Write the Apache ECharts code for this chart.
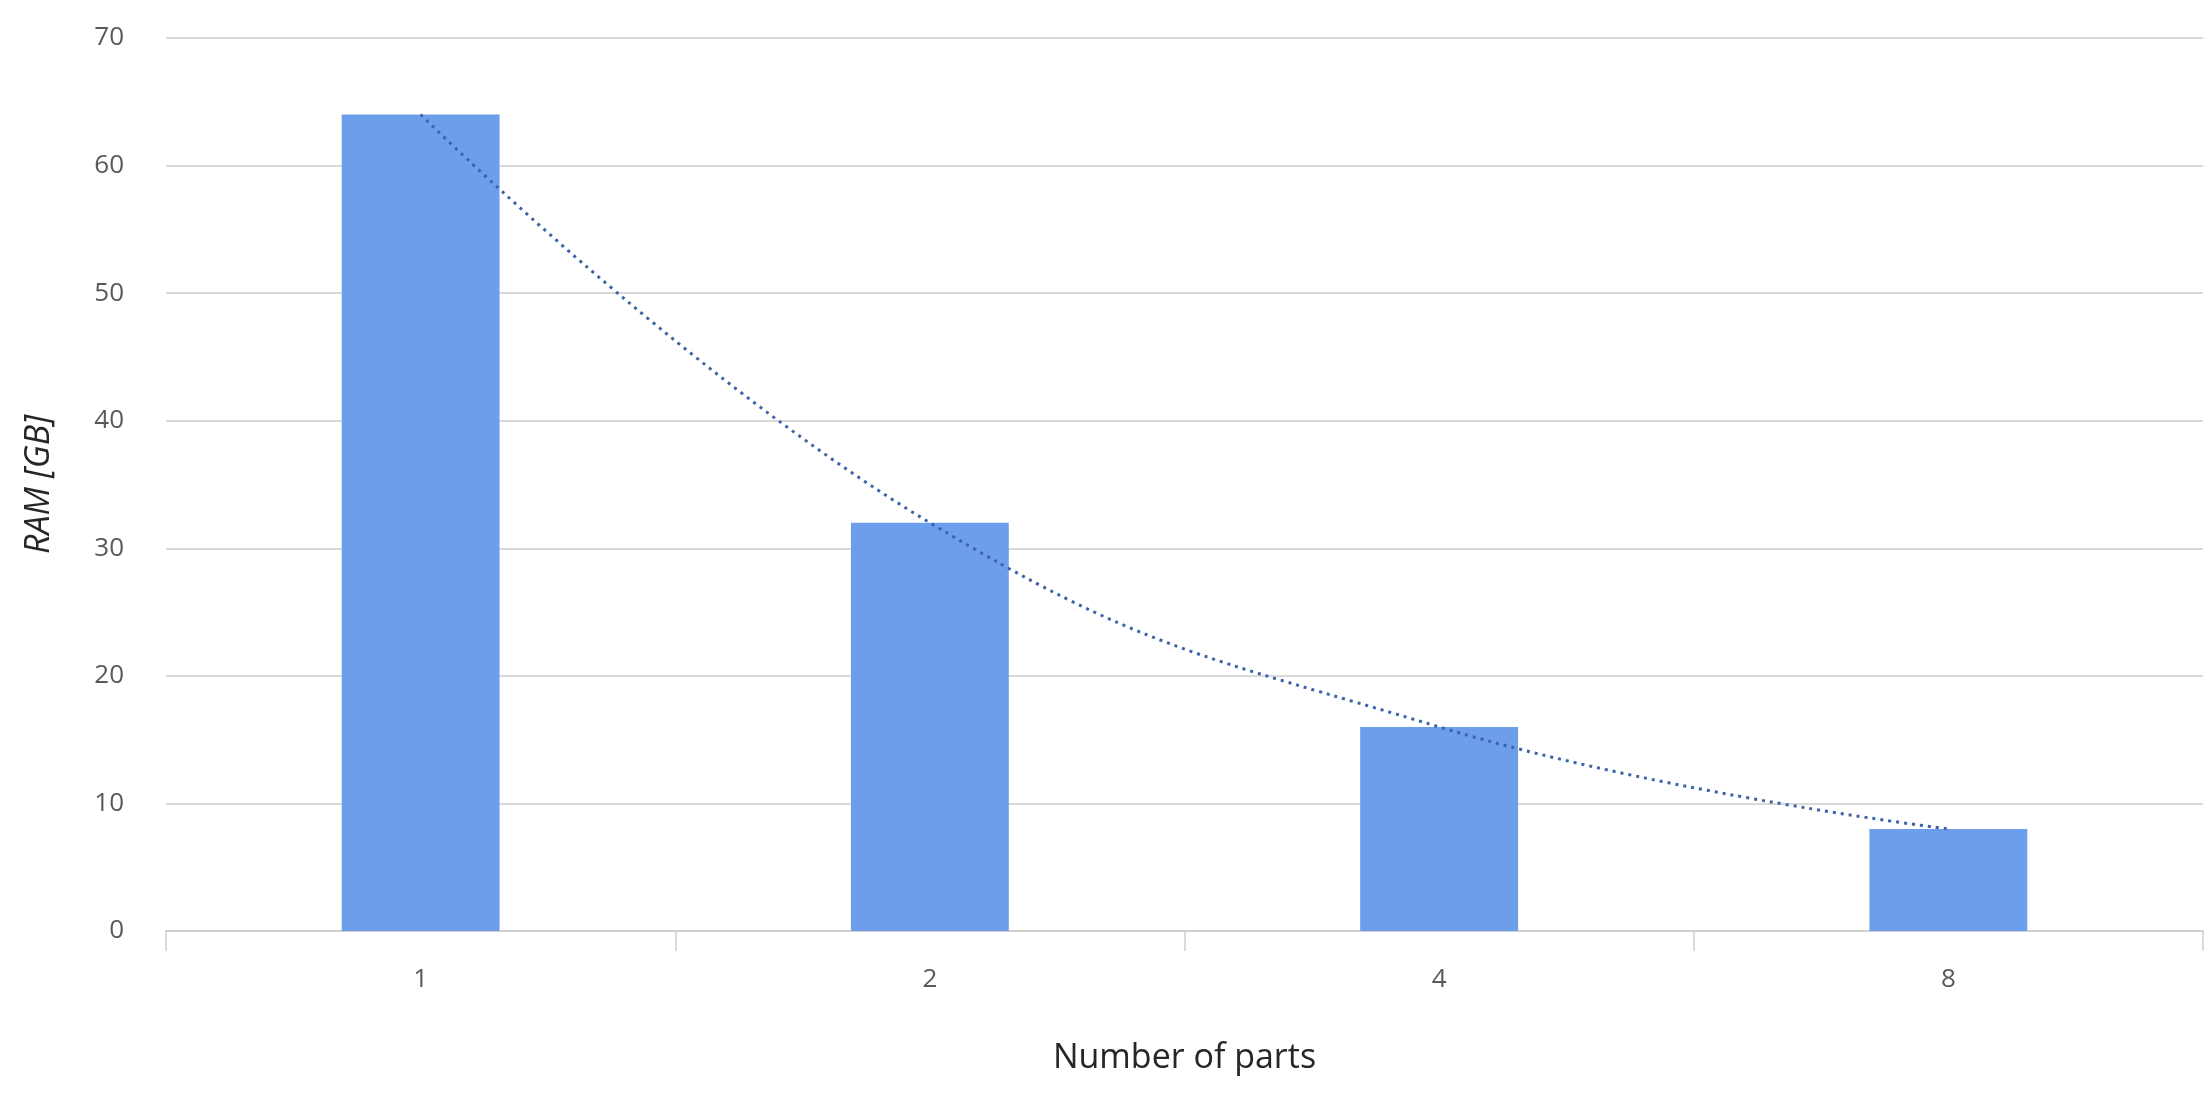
<!DOCTYPE html>
<html><head><meta charset="utf-8">
<script src="https://cdn.jsdelivr.net/npm/echarts@6/dist/echarts.min.js"></script>
<style>html,body{margin:0;padding:0;background:#fff}#c{width:2210px;height:1099px}</style>
</head><body><div id="c"></div>
<script>
const categories = ['1', '2', '4', '8'];
const ramValues = [64, 32, 16, 8];
const yTicks = {min: 0, max: 70, interval: 10};
const chart = echarts.init(document.getElementById('c'));
const font = 'Open Sans';
chart.setOption({
  animation: false,
  backgroundColor: '#fff',
  grid: {left: 166, right: 7, top: 38, bottom: 168},
  xAxis: {
    type: 'category', data: categories,
    name: 'Number of parts', nameLocation: 'middle', nameGap: 110,
    nameTextStyle: {fontFamily: font, fontSize: 34, color: '#262626'},
    axisLine: {lineStyle: {color: '#d0d0d0', width: 2}},
    axisTick: {show: true, length: 20, lineStyle: {color: '#d0d0d0', width: 1.5}},
    axisLabel: {fontFamily: font, fontSize: 26, color: '#595959', margin: 36}
  },
  yAxis: {
    type: 'value', min: yTicks.min, max: yTicks.max, interval: yTicks.interval,
    name: 'RAM [GB]', nameLocation: 'middle', nameGap: 110,
    nameTextStyle: {fontFamily: font, fontSize: 34, fontStyle: 'italic', color: '#262626'},
    axisLine: {show: false}, axisTick: {show: false},
    splitLine: {lineStyle: {color: '#d9d9d9', width: 2}},
    axisLabel: {fontFamily: font, fontSize: 26, color: '#595959', margin: 42}
  },
  series: [
    {type: 'bar', data: ramValues, barWidth: '31%', itemStyle: {color: '#6D9EEB'}},
    {type: 'line', data: ramValues, smooth: 0.45, symbol: 'none',
     lineStyle: {color: '#3D64A8', width: 3, type: [3, 5]}, z: 5}
  ]
});
</script></body></html>
